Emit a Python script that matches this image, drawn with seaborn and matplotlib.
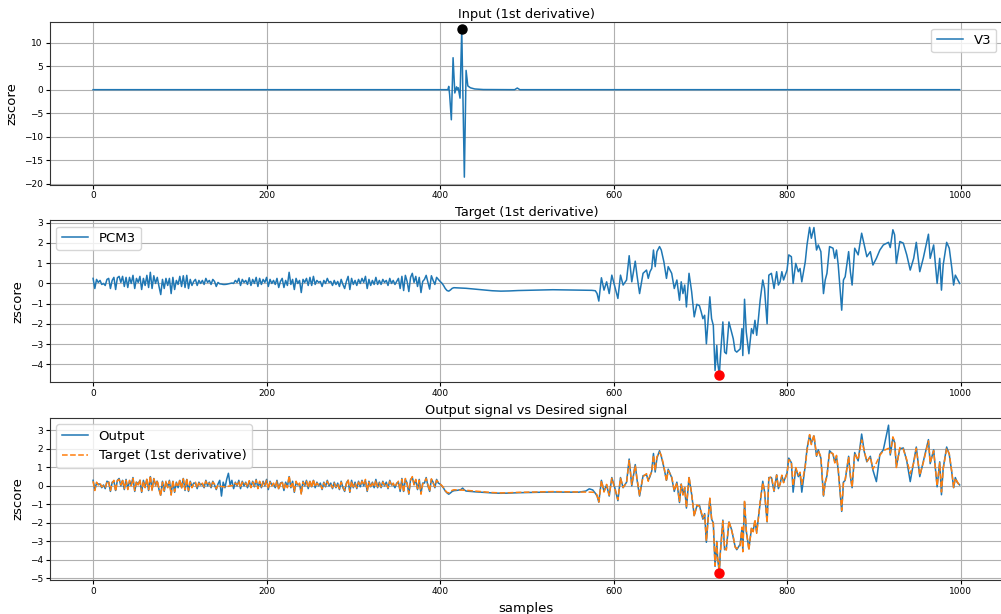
import matplotlib
matplotlib.use("Agg")
import matplotlib.pyplot as plt
import seaborn as sns
import pandas as pd

# ---------------- data ----------------
# Panel 1: input V3 (1st derivative)
v3_x = [0, 409, 410, 411, 413, 415, 417, 419, 420, 421, 423, 425, 428, 430,
        432, 435, 440, 450, 486, 489, 492, 999]
v3_y = [0.0, 0.0, 0.7, -1.0, -6.4, 6.8, -0.7, 0.6, 0.0, 0.4, -1.8, 12.8, -18.6, 4.1,
        0.8, 0.4, 0.15, 0.03, 0.0, 0.35, 0.0, 0.0]
v3_peak_x = [425]
v3_peak_y = [12.8]

# Panel 2/3: target PCM3 (1st derivative)
seg_a_x = list(range(0, 402, 2))
target_a = [
    0.25, -0.25, 0.2, 0.05, 0.15, -0.05, 0.0, -0.1, 0.2, 0.25,
    -0.25, 0.15, 0.3, -0.3, 0.28, 0.35, 0.05, 0.35, -0.15, 0.3,
    -0.2, 0.3, 0.0, 0.4, -0.25, 0.25, 0.05, 0.35, -0.3, 0.25,
    -0.1, 0.4, -0.2, 0.55, -0.25, 0.38, 0.0, 0.3, -0.15, -0.55,
    0.2, -0.25, 0.25, -0.1, 0.25, -0.5, 0.3, -0.3, 0.15, -0.05,
    0.35, -0.15, 0.38, -0.2, 0.4, -0.25, 0.2, -0.1, 0.1, 0.2,
    -0.1, 0.15, 0.0, 0.15, -0.05, 0.25, 0.05, 0.15, -0.05, 0.2,
    0.1, -0.15, 0.05, -0.02, -0.03, -0.05, -0.05, -0.04, -0.02, 0.0,
    0.02, 0.0, 0.15, 0.05, 0.25, -0.1, 0.2, 0.05, 0.15, -0.05,
    0.28, -0.1, 0.2, 0.0, 0.3, -0.15, 0.25, -0.05, 0.2, 0.05,
    0.3, -0.15, 0.2, 0.0, 0.15, -0.05, 0.25, -0.2, 0.1, 0.25,
    -0.2, 0.15, -0.1, 0.55, -0.05, 0.2, -0.3, 0.25, 0.0, 0.15,
    -0.45, 0.2, 0.05, 0.25, -0.1, 0.3, -0.1, 0.35, -0.05, 0.15,
    0.05, 0.1, -0.15, 0.15, 0.0, 0.25, 0.05, 0.1, -0.1, 0.15,
    -0.05, 0.1, -0.15, 0.2, -0.05, -0.25, 0.1, 0.35, -0.3, 0.25,
    -0.05, 0.15, -0.1, 0.2, 0.0, 0.25, 0.05, 0.35, -0.25, 0.2,
    -0.1, 0.15, -0.05, 0.3, -0.05, 0.15, -0.05, 0.2, 0.05, 0.15,
    -0.1, 0.25, 0.0, 0.15, -0.05, 0.1, 0.25, -0.25, 0.35, -0.35,
    0.4, 0.1, -0.4, 0.3, 0.5, 0.05, 0.35, -0.15, 0.3, -0.45,
    0.1, 0.2, 0.4, 0.05, -0.28, 0.38, 0.15, -0.05, 0.3, 0.2,
    0.1]
seg_b_x = [402, 404, 406, 408, 410, 412, 414, 416, 420, 430, 440, 450, 460,
           470, 480, 490, 500, 515, 530, 545, 560, 575, 579]
target_b = [0.02, -0.1, -0.25, -0.35, -0.38, -0.32, -0.24, -0.21, -0.22, -0.24,
            -0.28, -0.32, -0.36, -0.38, -0.37, -0.35, -0.34, -0.32, -0.31, -0.32,
            -0.33, -0.34, -0.36]
seg_c_x = [581, 583, 586, 589, 592, 595, 598, 602, 605, 608, 611, 615, 618, 621,
           625, 627, 630, 634, 638, 640, 642, 644, 646, 648, 650, 653, 655, 658,
           661, 663, 667, 670, 673, 676, 678, 680, 682, 684, 687, 690, 693, 696,
           699, 701, 703, 705, 707, 709, 711, 713, 715, 717, 719, 720, 722, 723,
           726, 728, 730, 733, 736, 738, 740, 742, 746, 748, 749, 751, 753, 756,
           759, 761, 763, 765, 767, 769, 772, 774, 777, 779, 782, 785, 788, 790,
           792, 794, 796, 800, 802, 805, 807, 810, 813, 815, 817, 821, 823, 826,
           828, 831, 834, 836, 839, 842, 844, 846, 849, 853, 855, 857, 859, 863,
           865, 867, 871, 873, 875, 878, 882, 886, 889, 892, 896, 899, 903, 907,
           911, 917, 919, 922, 924, 926, 930, 934, 938, 942, 946, 949, 953, 957,
           963, 965, 969, 973, 976, 978, 980, 984, 987, 990, 992, 994, 996, 999]
target_c = [-0.5, -0.87, 0.28, -0.33, 0.08, -0.5, 0.41, -0.25, -0.74, 0.41, -0.08, 0.17, 1.37, 0.08,
            1.1, 0.41, -0.5, 0.5, 0.66, 0.25, 0.58, 0.74, 1.65, 0.83, 1.57, 1.82, 1.65, 1.07,
            0.25, 0.83, 0.5, -0.25, 0.17, -0.83, 0.08, -0.5, -0.08, -1.16, 0.5, -0.4, -1.65, -1.03,
            -1.1, -1.4, -1.74, -1.57, -2.98, -1.82, -0.66, -1.74, -2.07, -4.3, -3.06, -3.9, -4.52, -3.72,
            -1.9, -3.39, -3.47, -1.9, -2.4, -2.73, -3.31, -3.39, -3.23, -2.23, -3.56, -0.78, -2.4, -3.47,
            -2.23, -2.48, -1.82, -2.56, -1.74, -0.83, 0.17, -0.25, -1.99, 0.41, 0.5, -0.25, 0.58, -0.08,
            0.08, 0.58, 0.17, 0.66, 1.41, 1.32, 0.0, 0.99, 0.58, 0.74, 0.08, 1.07, 1.9, 2.77,
            2.23, 2.76, 1.65, 1.9, 1.57, -0.5, 0.17, 0.5, 1.82, 1.74, 1.24, 1.65, 0.91, -1.32,
            0.17, 0.33, 1.57, 0.58, -0.08, 1.74, 1.41, 2.48, 1.9, 1.32, 1.57, 0.91, 1.24, 1.65,
            1.9, 2.03, 1.77, 2.65, 2.4, 0.99, 2.07, 1.99, 1.41, 0.66, 1.24, 2.03, 0.58, 1.24,
            2.43, 1.24, 1.9, 0.0, 1.24, -0.33, 0.91, 2.03, 1.74, 0.74, -0.08, 0.41, 0.25, 0.0]
target_min_x = [722]
target_min_y = [-4.52]

# Panel 3: network output
output_a = [
    0.3, -0.2, 0.15, 0.1, 0.1, -0.1, 0.05, -0.15, 0.25, 0.2,
    -0.3, 0.2, 0.25, -0.25, 0.3, 0.4, 0.0, 0.3, -0.2, 0.35,
    -0.15, 0.25, 0.05, 0.45, -0.3, 0.2, 0.1, 0.3, -0.35, 0.3,
    -0.05, 0.35, -0.25, 0.5, -0.2, 0.4, 0.05, 0.25, -0.2, -0.5,
    0.25, -0.3, 0.2, -0.05, 0.3, -0.45, 0.25, -0.35, 0.2, -0.1,
    0.3, -0.1, 0.4, -0.25, 0.35, -0.3, 0.25, -0.05, 0.15, 0.15,
    -0.15, 0.2, 0.05, 0.1, -0.1, 0.3, 0.0, 0.2, -0.1, 0.25,
    0.05, -0.2, 0.1, 0.3, -0.55, 0.2, -0.1, 0.35, 0.68, 0.05,
    0.3, -0.15, 0.2, 0.0, 0.3, -0.15, 0.25, 0.0, 0.2, -0.1,
    0.25, -0.05, 0.25, -0.05, 0.35, -0.1, 0.2, -0.1, 0.25, 0.0,
    0.35, -0.2, 0.25, 0.05, 0.1, -0.1, 0.3, -0.15, 0.15, 0.2,
    -0.25, 0.2, -0.05, 0.5, -0.1, 0.25, -0.35, 0.2, 0.05, 0.1,
    -0.4, 0.25, 0.0, 0.3, -0.15, 0.25, -0.05, 0.3, -0.1, 0.2,
    0.0, 0.15, -0.2, 0.2, -0.05, 0.3, 0.0, 0.15, -0.15, 0.2,
    -0.1, 0.15, -0.2, 0.25, -0.1, -0.3, 0.15, 0.3, -0.35, 0.3,
    -0.1, 0.2, -0.15, 0.25, -0.05, 0.3, 0.0, 0.3, -0.3, 0.25,
    -0.05, 0.2, -0.1, 0.35, -0.1, 0.2, -0.1, 0.25, 0.0, 0.2,
    -0.15, 0.3, 0.05, 0.1, -0.1, 0.15, 0.2, -0.3, 0.4, -0.3,
    0.35, 0.15, -0.45, 0.35, 0.45, 0.1, 0.3, -0.2, 0.35, -0.4,
    0.15, 0.15, 0.45, 0.0, -0.3, 0.35, 0.2, -0.1, 0.35, 0.15,
    0.1]
out_b_x = [402, 404, 406, 408, 410, 412, 414, 416, 420, 424, 426, 428, 430, 440,
           450, 460, 470, 480, 490, 500, 515, 530, 545, 560, 568, 572, 576, 579]
output_b = [0.0, -0.12, -0.28, -0.38, -0.45, -0.38, -0.3, -0.26, -0.24, -0.2,
            -0.12, -0.22, -0.28, -0.32, -0.35, -0.38, -0.4, -0.39, -0.37, -0.36,
            -0.35, -0.33, -0.34, -0.34, -0.28, -0.16, -0.22, -0.4]
output_c = [-0.55, -0.88, 0.3, -0.3, 0.05, -0.55, 0.45, -0.2, -0.8, 0.45, -0.1, 0.2, 1.45, 0.0,
            1.15, 0.35, -0.55, 0.55, 0.6, 0.3, 0.5, 0.8, 1.75, 0.75, 1.5, 1.9, 1.6, 1.0,
            0.3, 0.9, 0.45, -0.3, 0.2, -0.9, 0.1, -0.45, -0.1, -1.2, 0.45, -0.45, -1.6, -1.1,
            -1.05, -1.45, -1.8, -1.5, -3.05, -1.75, -0.7, -1.8, -2.0, -4.35, -3.0, -3.95, -4.7, -3.65,
            -1.85, -3.45, -3.4, -1.95, -2.35, -2.8, -3.25, -3.45, -3.15, -2.3, -3.5, -0.85, -2.45, -3.4,
            -2.3, -2.4, -1.9, -2.5, -1.7, -0.9, 0.25, -0.3, -1.95, 0.45, 0.45, -0.3, 0.6, -0.15,
            0.1, 0.55, 0.2, 0.7, 1.5, 1.25, -0.34, 0.95, 0.5, 0.7, -0.34, 1.1, 2.0, 2.75,
            2.3, 2.7, 1.6, 1.95, 1.5, -0.55, 0.2, 0.55, 1.9, 1.7, 1.3, 1.6, 0.85, -1.38,
            0.2, 0.3, 1.6, 0.5, -0.1, 1.8, 1.35, 2.8, 1.85, 1.3, 1.6, 0.85, 0.23, 1.7,
            1.95, 3.28, 1.67, 2.6, 2.35, 1.05, 2.0, 2.05, 1.35, 0.23, 1.3, 2.1, 0.5, 1.3,
            2.5, 1.2, 1.95, -0.05, 1.3, -0.48, 0.95, 2.1, 1.7, 0.7, -0.1, 0.45, 0.2, 0.05]
output_min_x = [722]
output_min_y = [-4.7]

# ---------------- assemble ----------------
df_in = pd.DataFrame({"sample": v3_x, "zscore": v3_y})
df_t = pd.DataFrame({"sample": seg_a_x + seg_b_x + seg_c_x,
                     "zscore": target_a + target_b + target_c})
df_o = pd.DataFrame({"sample": seg_a_x + out_b_x + seg_c_x,
                     "zscore": output_a + output_b + output_c})

plt.rcParams["font.family"] = ["DejaVu Sans"]
fig, axes = plt.subplots(3, 1, figsize=(10.01, 6.14), dpi=100)
fig.subplots_adjust(left=0.0497, right=1.002, top=0.964, bottom=0.055, hspace=0.218)

blue = "#1f77b4"
orange = "#ff7f0e"
lw = 1.1

ax1, ax2, ax3 = axes
sns.lineplot(data=df_in, x="sample", y="zscore", ax=ax1, color=blue, lw=lw,
             estimator=None, sort=False, label="V3")
ax1.plot(v3_peak_x, v3_peak_y, "o", color="black", ms=6.5)
ax1.set_title("Input (1st derivative)", fontsize=9.3, pad=3)

sns.lineplot(data=df_t, x="sample", y="zscore", ax=ax2, color=blue, lw=lw,
             estimator=None, sort=False, label="PCM3")
ax2.plot(target_min_x, target_min_y, "o", color="red", ms=6.5)
ax2.set_title("Target (1st derivative)", fontsize=9.3, pad=3)

sns.lineplot(data=df_o, x="sample", y="zscore", ax=ax3, color=blue, lw=lw,
             estimator=None, sort=False, label="Output")
sns.lineplot(data=df_t, x="sample", y="zscore", ax=ax3, color=orange, lw=lw,
             estimator=None, sort=False, label="Target (1st derivative)",
             linestyle="--")
ax3.plot(output_min_x, output_min_y, "o", color="red", ms=6.5)
ax3.set_title("Output signal vs Desired signal", fontsize=9.3, pad=3)

for ax in axes:
    ax.grid(True, color="#b0b0b0", lw=0.8)
    ax.set_axisbelow(True)
    ax.set_ylabel("zscore", fontsize=9.5)
    ax.set_xlabel("")
    ax.tick_params(labelsize=6.5, length=3, width=0.8, pad=2)
    ax.set_xticks([0, 200, 400, 600, 800, 1000])
    for s in ax.spines.values():
        s.set_color("#333333")
        s.set_linewidth(0.8)
    ax.set_xlim(-49.95, 1048.95)

ax1.set_yticks([-20, -15, -10, -5, 0, 5, 10])
ax2.set_yticks([-4, -3, -2, -1, 0, 1, 2, 3])
ax3.set_yticks([-5, -4, -3, -2, -1, 0, 1, 2, 3])
ax3.set_xlabel("samples", fontsize=9.5)

ax1.legend(loc="upper right", fontsize=9.5)
ax2.legend(loc="upper left", fontsize=9.5)
ax3.legend(loc="upper left", fontsize=9.5)

fig.savefig("out.png", dpi=100)
